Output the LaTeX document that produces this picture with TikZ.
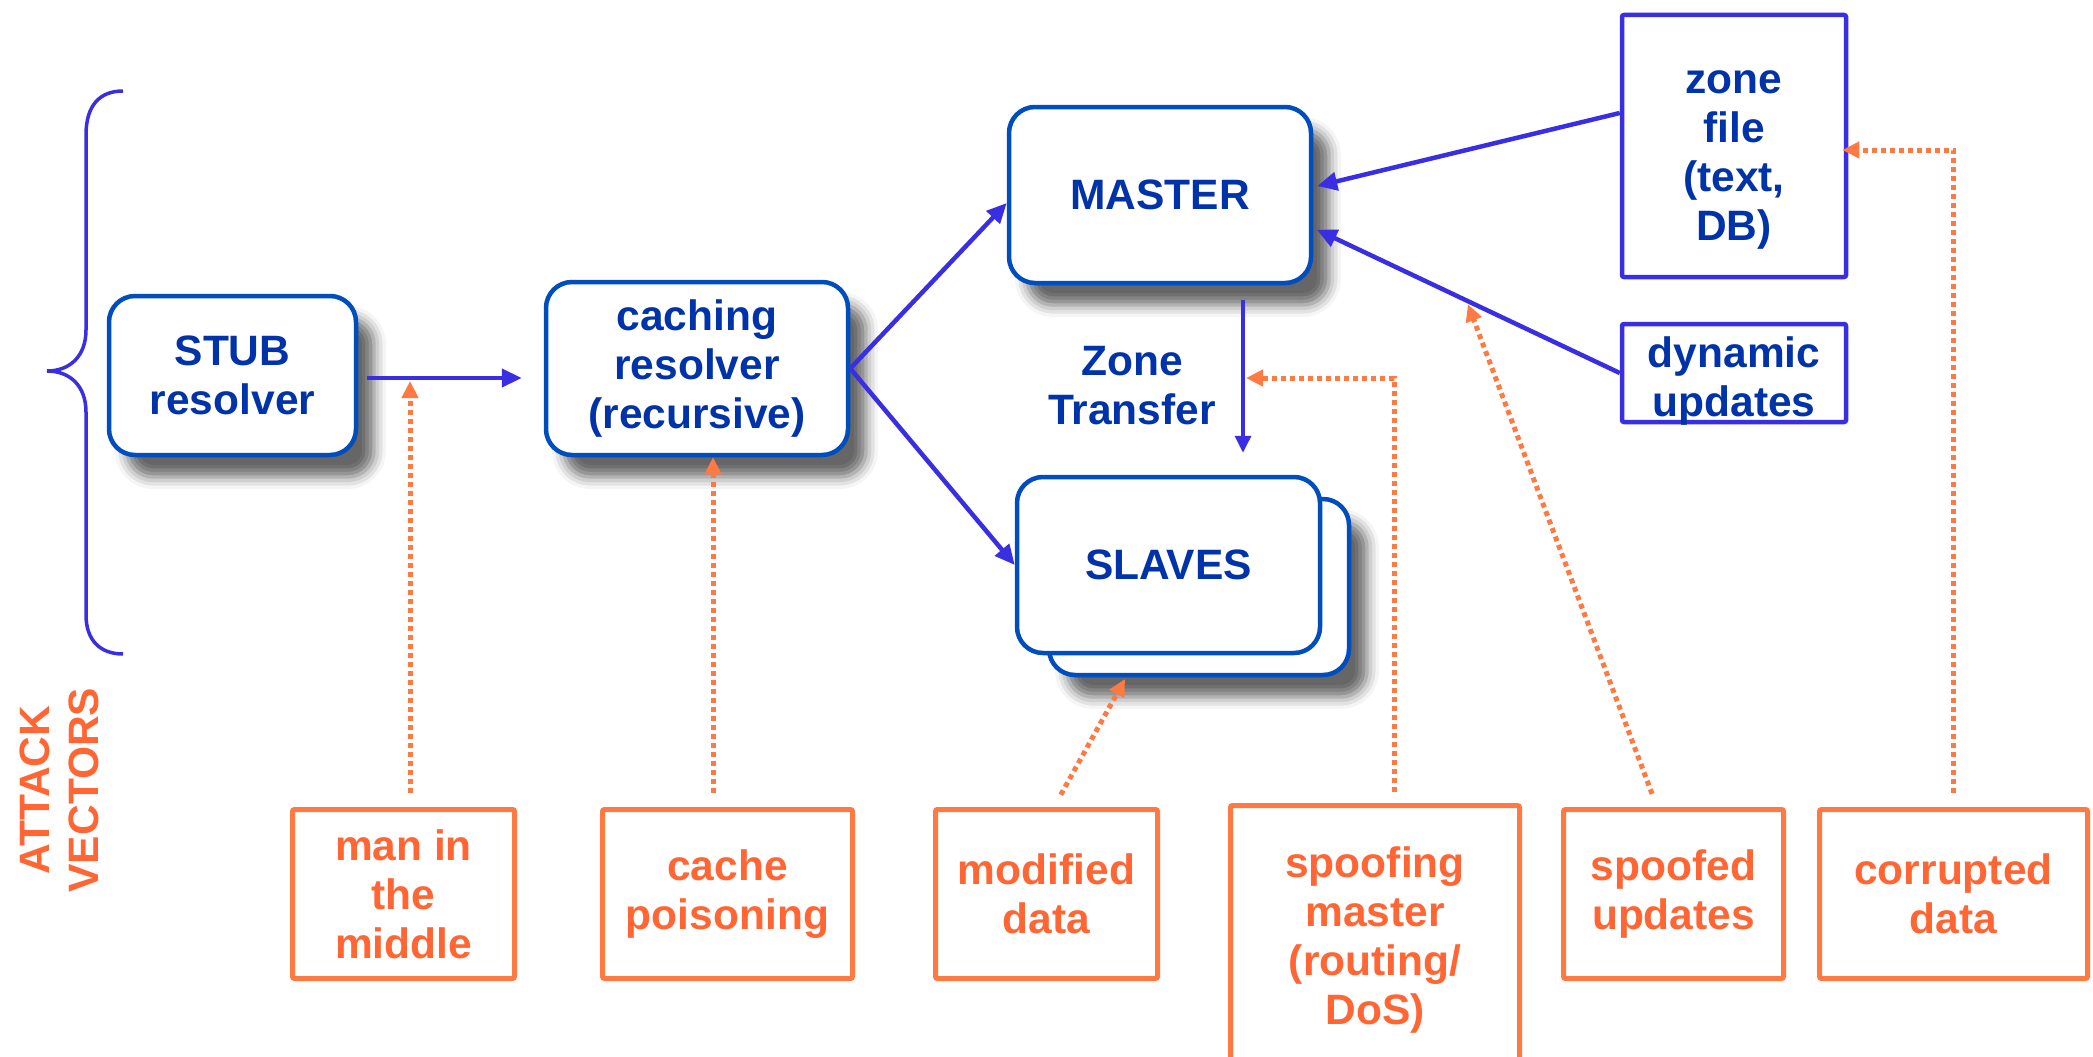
\documentclass[tikz,border=0pt]{standalone}
\usepackage{fontspec}
\setmainfont{Liberation Sans}
\usetikzlibrary{arrows.meta,shadows.blur,calc}
\definecolor{tblue}{RGB}{0,51,170}
\definecolor{bblue}{RGB}{0,78,190}
\definecolor{vblue}{RGB}{58,46,226}
\definecolor{oline}{RGB}{255,122,66}
\definecolor{otext}{RGB}{255,102,51}
\begin{document}
\begin{tikzpicture}[x=1pt,y=-1pt,
  txt/.style={font=\bfseries\fontsize{42.5}{49}\selectfont, align=center, inner sep=0pt},
  rboxbase/.style={txt, draw=bblue, line width=4.5pt, rounded corners=26pt, fill=white, text=tblue},
  rbox/.style={rboxbase, blur shadow={shadow xshift=18pt,shadow yshift=-22pt,shadow blur radius=12pt,shadow opacity=60}},
  sbox/.style={txt, draw=vblue, line width=4.5pt, rounded corners=2pt, fill=white, text=tblue},
  obox/.style={txt, draw=oline, line width=5pt, rounded corners=2pt, text=otext},
  barrow/.style={draw=vblue, line width=4.5pt, -{Triangle[length=20pt,width=18pt]}},
  zt/.style={draw=vblue, line width=3.5pt, -{Triangle[length=17pt,width=16pt]}},
  oarrow/.style={draw=oline, line width=5pt, dash pattern=on 5pt off 4pt, -{Triangle[length=17pt,width=16pt]}},
  bracepath/.style={draw=vblue, line width=3.5pt}
]
\path[use as bounding box] (0,0) rectangle (2093,1057);
\clip (0,0) rectangle (2093,1057);

% brace
\draw[bracepath] (123,91) .. controls (100,91) and (86,105) .. (86,135) -- (86,330)
  .. controls (86,356) and (70,371) .. (47,371)
  .. controls (70,371) and (86,386) .. (86,412) -- (86,615)
  .. controls (86,640) and (100,654) .. (123,654);

\node[txt, text=otext, rotate=90] (av) at (59,790) {ATTACK\\VECTORS};

% main nodes
\node[rbox, minimum width=247pt, minimum height=159pt] (stub) at (232.5,375.5) {STUB\\resolver};
\node[rbox, minimum width=302pt, minimum height=173pt] (cach) at (697,368.5) {caching\\resolver\\(recursive)};
\node[rbox, minimum width=302pt, minimum height=176pt] (mast) at (1160,195) {MASTER};
\node[rbox, minimum width=300pt, minimum height=176pt] (slb) at (1199,587) {};
\node[rboxbase, minimum width=303pt, minimum height=176pt] (slf) at (1168.5,565) {SLAVES};
\node[sbox, minimum width=224pt, minimum height=262pt] (zone) at (1734,146) {\rule{0pt}{50pt}zone\\file\\(text,\\DB)};
\node[sbox, minimum width=224pt, minimum height=96pt] (dyn) at (1734,373) {\raisebox{-9pt}[\height][\depth]{\begin{tabular}{@{}c@{}}dynamic\\updates\end{tabular}}};
\node[txt, text=tblue] (ztl) at (1132,386) {Zone\\Transfer};

% attack vector boxes
\node[obox, minimum width=222pt, minimum height=169pt] (mitmb) at (403.5,894) {man in\\the\\middle};
\node[obox, minimum width=250pt, minimum height=169pt] (cpo) at (727.5,894) {cache\\poisoning};
\node[obox, minimum width=222pt, minimum height=169pt] (mod) at (1046.5,894) {modified\\data};
\node[obox, minimum width=289pt, minimum height=269pt] (spm) at (1375,940) {spoofing\\master\\(routing/\\DoS)};
\node[obox, minimum width=220pt, minimum height=169pt] (spu) at (1673.5,894) {spoofed\\updates};
\node[obox, minimum width=268pt, minimum height=169pt] (cor) at (1953.5,894) {corrupted\\data};

\coordinate (mitm) at (410,378);
\coordinate (ztm) at (1243,378);

% blue connectors
\draw[barrow, shorten <=9pt, shorten >=22pt] (stub.east |- mitm) -- (cach.west |- mitm);
\draw[barrow] (cach.east) -- ([yshift=-8pt]mast.west);
\draw[barrow] (cach.east) -- (slf.west);
\draw[barrow, shorten >=4pt] ([yshift=33pt]zone.west) -- ([yshift=8pt]mast.east);
\draw[barrow, shorten >=4pt] (dyn.west) -- ([yshift=-33pt]mast.east);
\draw[zt, shorten <=15pt, shorten >=22pt] ([xshift=83pt]mast.south) -- ([xshift=83pt]mast.south |- slf.north);

% orange attack connectors
\coordinate (dmid) at ($(dyn.west)!0.5!([yshift=-33pt]mast.east)$);
\draw[oarrow, shorten <=14pt, shorten >=3pt] (mitm |- mitmb.north) -- (mitm);
\draw[oarrow, shorten <=14pt] ([xshift=16pt]cach.south |- cpo.north) -- ([xshift=16pt]cach.south);
\draw[oarrow, shorten <=14pt, shorten >=2pt] ([xshift=7.5pt]mod.north) -- ([xshift=-73pt]slb.south);
\draw[oarrow, shorten <=11pt, shorten >=3pt] ([xshift=19pt]spm.north) |- (ztm);
\draw[oarrow, shorten <=14pt, shorten >=4pt] ([xshift=-16.5pt]spu.north) -- (dmid);
\draw[oarrow, shorten <=14pt, shorten >=-6pt] (cor.north) |- ([yshift=-4pt]zone.east);
\end{tikzpicture}
\end{document}
